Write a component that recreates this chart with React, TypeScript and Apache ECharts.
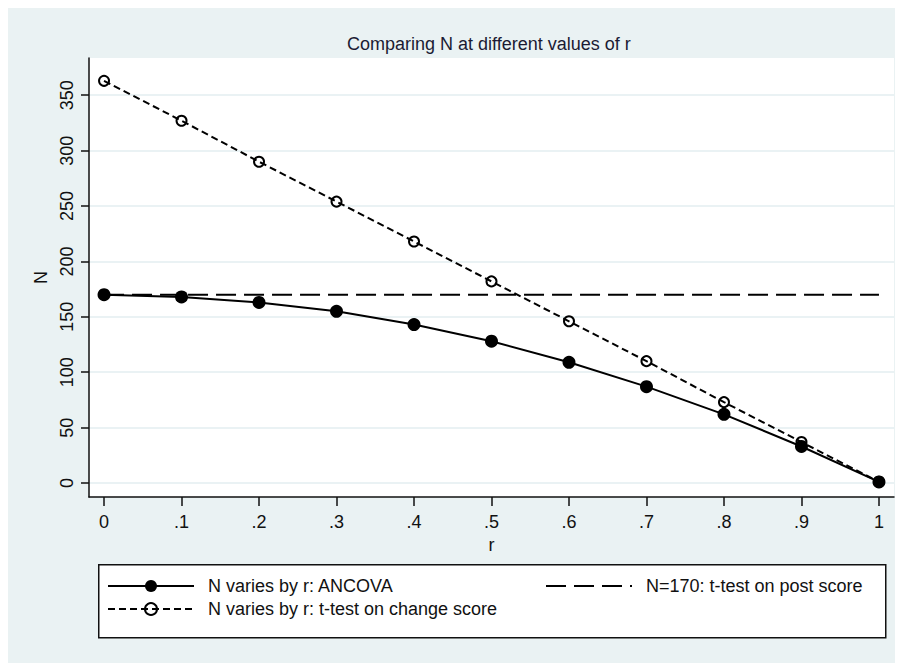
import React, { useEffect, useRef } from "react";
import * as echarts from "echarts";

const rValues = [0, 0.1, 0.2, 0.3, 0.4, 0.5, 0.6, 0.7, 0.8, 0.9, 1];
const nAncova = [170, 168, 163, 155, 143, 128, 109, 87, 62, 33, 1];
const nChange = [363, 327, 290, 254, 218, 182, 146, 110, 73, 37, 1];
const nPost = [170, 170, 170, 170, 170, 170, 170, 170, 170, 170, 170];
const xTicks = [0, 0.1, 0.2, 0.3, 0.4, 0.5, 0.6, 0.7, 0.8, 0.9, 1];
const yTicks = [0, 50, 100, 150, 200, 250, 300, 350];

const NAME_ANCOVA = "N varies by r: ANCOVA";
const NAME_CHANGE = "N varies by r: t-test on change score";
const NAME_POST = "N=170: t-test on post score";

const FONT = "'Liberation Sans', Arial, Helvetica, sans-serif";

export default function App() {
  const ref = useRef<HTMLDivElement>(null);
  useEffect(() => {
    if (!ref.current) return;
    const chart = echarts.init(ref.current, undefined, { renderer: "svg" });
    const pair = (ys: number[]) => rValues.map((x, i) => [x, ys[i]]);
    const textCol = "#111";
    chart.setOption({
      animation: false,
      backgroundColor: "#eaf2f3",
      textStyle: { fontFamily: FONT },
      title: {
        text: "Comparing N at different values of r",
        left: 339,
        top: 27,
        padding: 0,
        textStyle: { fontSize: 18, fontWeight: "normal", color: "#1b1b33", fontFamily: FONT },
      },
      grid: {
        left: 81,
        right: 9,
        top: 50,
        bottom: 166,
        show: true,
        backgroundColor: "#ffffff",
        borderWidth: 0,
      },
      xAxis: {
        type: "value",
        min: -0.0194,
        max: 1.0194,
        name: "r",
        nameLocation: "middle",
        nameGap: 30,
        nameTextStyle: { fontSize: 18, color: textCol, fontFamily: FONT },
        axisLine: { show: true, onZero: false, lineStyle: { color: "#111", width: 1.5 } },
        axisTick: { show: true, length: 9, customValues: xTicks, lineStyle: { color: "#111", width: 1.5 } },
        axisLabel: {
          customValues: xTicks,
          margin: 16,
          fontSize: 18,
          color: textCol,
          fontFamily: FONT,
          formatter: (v: number) => {
            const s = String(Math.round(v * 10) / 10);
            return s.replace(/^0\./, ".");
          },
        },
        splitLine: { show: false },
      },
      yAxis: {
        type: "value",
        min: -12.6,
        max: 383.6,
        name: "N",
        nameLocation: "middle",
        nameGap: 38,
        nameTextStyle: { fontSize: 18, color: textCol, fontFamily: FONT },
        axisLine: { show: true, onZero: false, lineStyle: { color: "#111", width: 1.5 } },
        axisTick: { show: true, length: 8, customValues: yTicks, lineStyle: { color: "#111", width: 1.5 } },
        axisLabel: {
          customValues: yTicks,
          rotate: 90,
          margin: 13,
          fontSize: 18,
          color: textCol,
          fontFamily: FONT,
        },
        splitLine: { show: true, lineStyle: { color: "#e3eef1", width: 1.5 } },
      },
      graphic: [
        {
          type: "rect",
          left: 90,
          top: 556,
          z: 0,
          shape: { width: 787, height: 73 },
          style: { fill: "#ffffff", stroke: "#111", lineWidth: 1.5 },
        },
      ],
      legend: [
        {
          data: [NAME_ANCOVA, NAME_CHANGE],
          orient: "vertical",
          left: 99,
          top: 569,
          padding: 0,
          itemGap: 5,
          itemWidth: 86,
          itemHeight: 15,
          z: 5,
          selectedMode: false,
          textStyle: { fontSize: 18, color: textCol, fontFamily: FONT, padding: [0, 0, 0, 9] },
        },
        {
          data: [
            {
              name: NAME_POST,
              itemStyle: { color: "rgba(0,0,0,0)", borderColor: "rgba(0,0,0,0)", borderWidth: 0, opacity: 0 },
            },
          ],
          orient: "vertical",
          left: 537,
          top: 569,
          padding: 0,
          itemGap: 5,
          itemWidth: 86,
          itemHeight: 15,
          z: 5,
          selectedMode: false,
          textStyle: { fontSize: 18, color: textCol, fontFamily: FONT, padding: [0, 0, 0, 9] },
        },
      ],
      series: [
        {
          name: NAME_ANCOVA,
          type: "line",
          data: pair(nAncova),
          symbol: "circle",
          symbolSize: 13,
          itemStyle: { color: "#000" },
          lineStyle: { color: "#000", width: 2, type: "solid" },
          z: 3,
        },
        {
          name: NAME_CHANGE,
          type: "line",
          data: pair(nChange),
          symbol: "circle",
          symbolSize: 10,
          itemStyle: { color: "rgba(0,0,0,0)", borderColor: "#000", borderWidth: 2 },
          lineStyle: { color: "#000", width: 2, type: [7, 4] },
          z: 4,
        },
        {
          name: NAME_POST,
          type: "line",
          data: pair(nPost),
          symbol: "none",
          itemStyle: { color: "#000" },
          lineStyle: { color: "#000", width: 2, type: [20, 8] },
          z: 2,
        },
      ],
    });
    return () => chart.dispose();
  }, []);
  return <div ref={ref} style={{ width: 895, height: 655 }} />;
}
